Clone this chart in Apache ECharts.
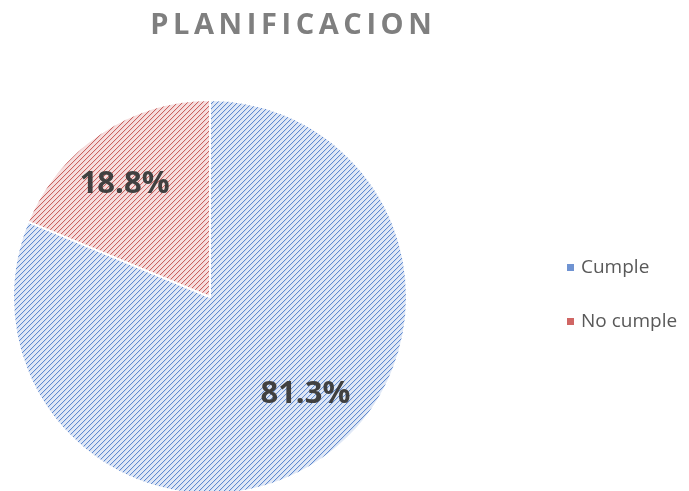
<!DOCTYPE html>
<html>
<head>
<meta charset="utf-8">
<script src="https://cdn.jsdelivr.net/npm/echarts@6/dist/echarts.min.js"></script>
<style>
  html, body { margin: 0; padding: 0; background: #fff; }
  #main { width: 689px; height: 491px; }
</style>
</head>
<body>
<div id="main"></div>
<script>
let titleText = "PLANIFICACION";
let categories = ["Cumple", "No cumple"];
let values = [13, 3];
let stripeColors = ["#5f8ad0", "#c9615f"];
let backColors = ["#e0e8f6", "#f6dede"];
let iconColors = ["#6f93d2", "#d06664"];
let labelOffsets = [[39, 13], [-29, -28]];

// small tile with "/" stripes, like the office hatch fill
function makeHatch(back, stripe) {
    let c = document.createElement('canvas');
    c.width = 5;
    c.height = 5;
    let ctx = c.getContext('2d');
    ctx.fillStyle = back;
    ctx.fillRect(0, 0, 5, 5);
    ctx.fillStyle = stripe;
    for (let i = 0; i < 5; i++) {
        ctx.fillRect(i, 4 - i, 1, 1);
    }
    ctx.globalAlpha = 0.12;
    for (let i = 0; i < 5; i++) {
        ctx.fillRect((i + 1) % 5, 4 - i, 1, 1);
    }
    return c;
}

let total = values.reduce((a, b) => a + b, 0);

let pieData = categories.map(function (name, i) {
    return {
        name: name,
        value: values[i],
        itemStyle: {
            color: { image: makeHatch(backColors[i], stripeColors[i]), repeat: 'repeat' }
        },
        label: { offset: labelOffsets[i] }
    };
});

let myChart = echarts.init(document.getElementById('main'));
let option = {
    animation: false,
    title: {
        text: titleText.split('').map(ch => '{s|' + ch + '}').join(''),
        left: 286,
        textAlign: 'center',
        top: 6,
        textStyle: {
            rich: {
                s: {
                    fontFamily: 'Open Sans',
                    fontWeight: 'bold',
                    fontSize: 29,
                    color: '#7f7f7f',
                    padding: [0, 2.3, 0, 2.3]
                }
            }
        }
    },
    legend: {
        orient: 'vertical',
        left: 565,
        top: 258,
        padding: 0,
        itemGap: 35,
        itemWidth: 9,
        itemHeight: 9,
        icon: 'rect',
        textStyle: { fontFamily: 'Open Sans', fontSize: 19, color: '#595959', padding: [0, 0, 0, 1] },
        data: categories.map(function (name, i) {
            return { name: name, itemStyle: { color: iconColors[i] } };
        })
    },
    series: [
        {
            type: 'pie',
            center: [210, 297],
            radius: 197,
            startAngle: 90,
            clockwise: true,
            data: pieData,
            itemStyle: { borderColor: '#ffffff', borderWidth: 2 },
            emphasis: { disabled: true },
            label: {
                position: 'inside',
                formatter: function (p) {
                    return (p.value / total * 100).toFixed(1) + '%';
                },
                fontFamily: 'Open Sans',
                fontWeight: 'bold',
                fontSize: 31,
                color: '#404040'
            },
            labelLine: { show: false }
        }
    ]
};
myChart.setOption(option);
</script>
</body>
</html>
